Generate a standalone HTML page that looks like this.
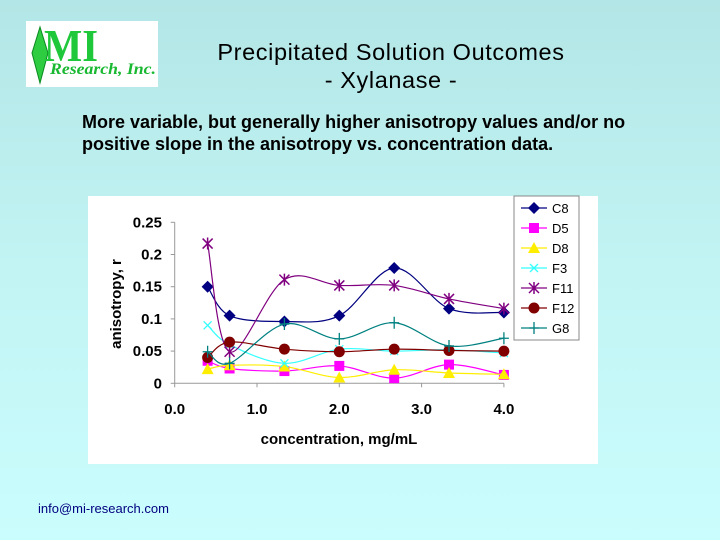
<!DOCTYPE html>
<html><head><meta charset="utf-8"><style>
body{margin:0;}
#slide{position:relative;width:720px;height:540px;overflow:hidden;background:linear-gradient(180deg,#b3e6e6 0%,#c2f4f4 50%,#cafdfd 100%);font-family:"Liberation Sans",Arial,sans-serif;}
.abs{position:absolute;}
</style></head><body>
<div id="slide">
<div class="abs" style="left:26px;top:21px;width:132px;height:66px;background:#fff;">
<svg width="132" height="66">
<polygon points="14,6 22,32 14,62 6,32" fill="#2ecc40" stroke="#0a8a20" stroke-width="1"/>
<text x="18" y="40" font-family="Liberation Serif,serif" font-weight="bold" font-size="46" fill="#1fc83a" textLength="54" lengthAdjust="spacingAndGlyphs">MI</text>
<text x="24" y="53" font-family="Liberation Serif,serif" font-style="italic" font-weight="bold" font-size="16" fill="#18b830" textLength="106" lengthAdjust="spacingAndGlyphs">Research, Inc.</text>
</svg></div>
<div class="abs" style="left:160px;top:38px;width:462px;text-align:center;font-size:23.5px;letter-spacing:0.6px;line-height:28px;color:#000;">Precipitated Solution Outcomes<br>- Xylanase -</div>
<div class="abs" style="left:82px;top:111px;width:560px;font-size:18px;font-weight:bold;line-height:22px;color:#000;">More variable, but generally higher anisotropy values and/or no positive slope in the anisotropy vs. concentration data.</div>
<svg class="abs" id="chart" style="left:0;top:0" width="720" height="540"></svg>
<div class="abs" style="left:38px;top:501px;font-size:13px;color:#000080;">info@mi-research.com</div>
</div>
<script>
const xs=[0.4,0.667,1.333,2.0,2.667,3.333,4.0];
const seriesNames=["C8","D5","D8","F3","F11","F12","G8"];
const C8=[0.150,0.105,0.096,0.105,0.179,0.116,0.110];
const D5=[0.035,0.023,0.019,0.027,0.008,0.029,0.013];
const D8=[0.022,0.028,0.026,0.009,0.021,0.016,0.014];
const F3=[0.090,0.060,0.031,0.053,0.050,0.052,0.047];
const F11=[0.217,0.049,0.161,0.152,0.152,0.131,0.116];
const F12=[0.040,0.064,0.053,0.049,0.053,0.051,0.050];
const G8=[0.049,0.031,0.092,0.069,0.094,0.058,0.070];
const xTicks=[0,1,2,3,4];
const yTicks=[0,0.05,0.1,0.15,0.2,0.25];
const yTickLabels=["0","0.05","0.1","0.15","0.2","0.25"];
const allSeries=[C8,D5,D8,F3,F11,F12,G8];
const colors=["#000080","#ff00ff","#ffee00","#33ffff","#800080","#800000","#008080"];
const markers=["diamond","square","triangle","x","star","circle","plus"];
const NS="http://www.w3.org/2000/svg";
const svg=document.getElementById('chart');
const X=v=>174.7+v*82.3, Y=v=>383.3-v*644;
function el(t,a,p){const e=document.createElementNS(NS,t);for(const k in a)e.setAttribute(k,a[k]);(p||svg).appendChild(e);return e;}
const bg=el('rect',{x:88,y:196,width:510,height:268,fill:'#fff'});


const xa=el('line',{x1:X(0),x2:X(4),y1:Y(0),y2:Y(0),stroke:'#999','stroke-width':1});


const ya=el('line',{x1:X(0),x2:X(0),y1:Y(0),y2:Y(0.25),stroke:'#999','stroke-width':1});


xTicks.forEach(t=>{
 el('line',{x1:X(t),x2:X(t),y1:Y(0),y2:Y(0)+4,stroke:'#999'});
 const tx=el('text',{x:X(t),y:414,'text-anchor':'middle','font-size':15,'font-weight':'bold'});
 tx.textContent=t.toFixed(1);
 
 
});
yTicks.forEach((t,i)=>{
 el('line',{x1:X(0)-4,x2:X(0),y1:Y(t),y2:Y(t),stroke:'#999'});
 const tx=el('text',{x:162,y:Y(t)+5,'text-anchor':'end','font-size':15,'font-weight':'bold'});
 tx.textContent=yTickLabels[i];
 
 
});
const xt=el('text',{x:339,y:444,'text-anchor':'middle','font-size':15,'font-weight':'bold'});
xt.textContent='concentration, mg/mL';


const yt=el('text',{x:0,y:0,'text-anchor':'middle','font-size':15,'font-weight':'bold',transform:'translate(121,304) rotate(-90)'});
yt.textContent='anisotropy, r';


function smooth(pts){let d=`M${pts[0][0]},${pts[0][1]}`;for(let i=0;i<pts.length-1;i++){const p0=pts[Math.max(0,i-1)],p1=pts[i],p2=pts[i+1],p3=pts[Math.min(pts.length-1,i+2)];const t=1/6;d+=` C${p1[0]+(p2[0]-p0[0])*t},${p1[1]+(p2[1]-p0[1])*t} ${p2[0]-(p3[0]-p1[0])*t},${p2[1]-(p3[1]-p1[1])*t} ${p2[0]},${p2[1]}`;}return d;}
function marker(g,m,x,y,c){
 if(m==='diamond')el('polygon',{points:`${x},${y-6} ${x+6},${y} ${x},${y+6} ${x-6},${y}`,fill:c},g);
 else if(m==='square')el('rect',{x:x-5,y:y-5,width:10,height:10,fill:c},g);
 else if(m==='triangle')el('polygon',{points:`${x},${y-6} ${x+6},${y+5} ${x-6},${y+5}`,fill:c},g);
 else if(m==='circle')el('circle',{cx:x,cy:y,r:5.5,fill:c},g);
 else if(m==='x'){el('path',{d:`M${x-4},${y-4}L${x+4},${y+4}M${x+4},${y-4}L${x-4},${y+4}`,stroke:c,'stroke-width':1.3},g);}
 else if(m==='star'){el('path',{d:`M${x-5},${y-5}L${x+5},${y+5}M${x+5},${y-5}L${x-5},${y+5}M${x},${y-6}L${x},${y+6}`,stroke:c,'stroke-width':1.5},g);}
 else if(m==='plus'){el('path',{d:`M${x-5},${y}L${x+5},${y}M${x},${y-6}L${x},${y+6}`,stroke:c,'stroke-width':1.3},g);}
}
allSeries.forEach((s,i)=>{
 const g=el('g',{});
 
 
 const pts=xs.map((x,j)=>[X(x),Y(s[j])]);
 el('path',{d:smooth(pts),fill:'none',stroke:colors[i],'stroke-width':1.2},g);
 pts.forEach(p=>marker(g,markers[i],p[0],p[1],colors[i]));
});
const lg=el('g',{});


el('rect',{x:514,y:196,width:65,height:144,fill:'#fff',stroke:'#888'},lg);
seriesNames.forEach((n,i)=>{
 const y=208+i*20;
 const e=el('g',{},lg);
 
 
 el('line',{x1:521,x2:547,y1:y,y2:y,stroke:colors[i],'stroke-width':1.2},e);
 marker(e,markers[i],534,y,colors[i]);
 const t=el('text',{x:552,y:y+5,'font-size':13},e);t.textContent=n;
});
</script>
</body></html>
